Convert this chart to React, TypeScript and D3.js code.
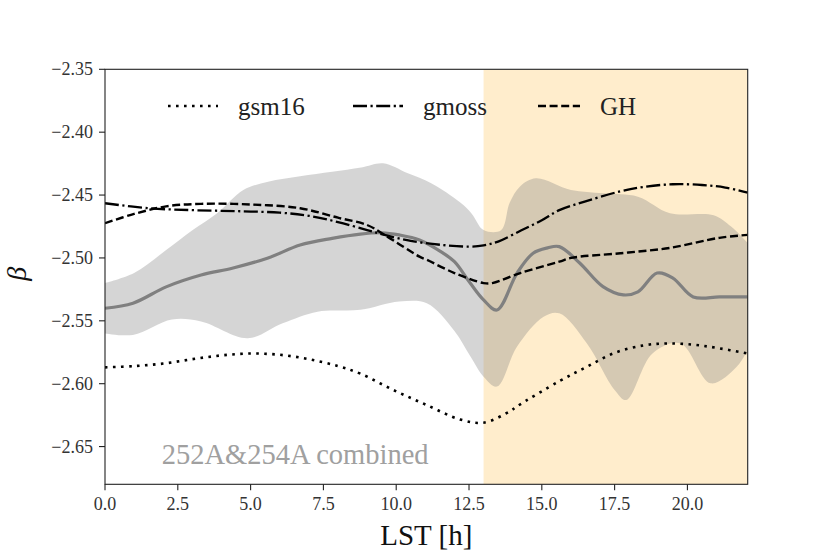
import * as d3 from 'd3';

const width = 830;
const height = 554;
const margin = { top: 69.3, right: 82.3, bottom: 69.7, left: 105 };

// LST hours and beta values
const gsm16X = [0, 1, 2, 3, 4, 5, 6, 7, 8, 8.77, 9.9, 11.05, 12.2, 13.0, 13.9, 14.15, 15.6, 16.55, 17.5, 18.5, 19.3, 20.2, 21.0, 22.07];
const gsm16Y = [-2.587, -2.586, -2.584, -2.5805, -2.5775, -2.576, -2.577, -2.5805, -2.586, -2.592, -2.605, -2.617, -2.6285, -2.631, -2.622, -2.618, -2.598, -2.5865, -2.5755, -2.5695, -2.568, -2.569, -2.5715, -2.576];

const gmossX = [0, 1.5, 3, 4.5, 6, 7, 8, 9, 9.6, 10.5, 11.5, 12.5, 13.0, 13.5, 14.3, 15, 15.6, 16.5, 17.7, 18.5, 19.5, 20.5, 21.3, 22.07];
const gmossY = [-2.4565, -2.4605, -2.462, -2.4628, -2.464, -2.4665, -2.4715, -2.4778, -2.4817, -2.4865, -2.4895, -2.491, -2.49, -2.487, -2.478, -2.47, -2.462, -2.455, -2.447, -2.4435, -2.4414, -2.442, -2.444, -2.448];

const ghX = [0, 1, 2.1, 3.3, 5, 6.7, 8, 9, 9.6, 10.8, 11.05, 12, 13.0, 13.3, 14.26, 15.6, 16.0, 17.7, 19.4, 21.1, 22.07];
const ghY = [-2.4724, -2.465, -2.459, -2.457, -2.4575, -2.4605, -2.468, -2.4738, -2.4817, -2.499, -2.5015, -2.512, -2.52, -2.52, -2.512, -2.503, -2.5, -2.4963, -2.492, -2.484, -2.4817];

const meanX = [0, 0.96, 2.1, 3.3, 4.4, 5.6, 6.7, 7.8, 8.77, 9.5, 10.1, 10.8, 11.6, 12.0, 12.54, 13.0, 13.46, 14.15, 14.7, 15.2, 15.6, 16.3, 17.1, 17.8, 18.3, 18.96, 19.5, 20.2, 21.1, 22.07];
const meanY = [-2.54, -2.536, -2.523, -2.5136, -2.508, -2.5, -2.4897, -2.4844, -2.481, -2.48, -2.4817, -2.4857, -2.496, -2.503, -2.52, -2.5334, -2.5414, -2.512, -2.4963, -2.492, -2.491, -2.504, -2.5228, -2.5294, -2.527, -2.512, -2.516, -2.531, -2.531, -2.531];

const upperX = [0, 1, 2.1, 3.0, 3.85, 4.75, 5.6, 6.7, 7.8, 8.8, 9.55, 10.4, 11.2, 12.2, 12.6, 13.0, 13.6, 13.9, 14.26, 14.8, 16.0, 17.1, 18.3, 19.4, 20.9, 21.5, 22.07];
const upperY = [-2.52, -2.512, -2.4937, -2.478, -2.4645, -2.446, -2.4394, -2.435, -2.4314, -2.428, -2.4247, -2.4327, -2.4406, -2.456, -2.465, -2.4778, -2.478, -2.456, -2.443, -2.4367, -2.446, -2.4486, -2.4513, -2.4645, -2.466, -2.475, -2.488];

const lowerX = [0, 0.96, 2.3, 3.3, 4.9, 6.1, 7.3, 8.77, 10.1, 11.05, 12.0, 12.54, 13.0, 13.46, 14.15, 15.06, 15.6, 16.55, 17.5, 17.9, 18.8, 19.76, 20.8, 21.7, 22.07];
const lowerY = [-2.56, -2.5612, -2.549, -2.5506, -2.5639, -2.552, -2.5427, -2.5413, -2.5347, -2.536, -2.558, -2.578, -2.5944, -2.6023, -2.5705, -2.5467, -2.544, -2.568, -2.605, -2.613, -2.576, -2.568, -2.5997, -2.5864, -2.573];

const xTicks = [0, 2.5, 5, 7.5, 10, 12.5, 15, 17.5, 20];
const yTicks = [-2.35, -2.4, -2.45, -2.5, -2.55, -2.6, -2.65];
const dayStart = 13;
const xMax = 22.07;

const legendItems = [
	{ label: 'gsm16', dash: '2.6 5.4', width: 2.6, x: 168 },
	{ label: 'gmoss', dash: '14 3.5 2.2 3.5', width: 2.3, x: 353 },
	{ label: 'GH', dash: '8 3.6', width: 2.4, x: 538 },
];

const font = '"Liberation Serif", "Times New Roman", serif';

const zip = (xs: number[], ys: number[]) => xs.map((x, i) => [x, ys[i]] as [number, number]);

const App = () => {
	const innerWidth = width - margin.left - margin.right;
	const innerHeight = height - margin.top - margin.bottom;

	const xScale = d3.scaleLinear().domain([0, xMax]).range([0, innerWidth]);
	const yScale = d3.scaleLinear().domain([-2.68, -2.35]).range([innerHeight, 0]);

	const lineGen = d3
		.line<[number, number]>()
		.curve(d3.curveCatmullRom.alpha(0.5))
		.x(d => xScale(d[0]))
		.y(d => yScale(d[1]));

	const bandPath =
		lineGen(zip(upperX, upperY)) +
		'L' +
		(lineGen(zip(lowerX, lowerY).reverse()) || '').slice(1) +
		'Z';

	const models = [
		{ xs: gsm16X, ys: gsm16Y, ...legendItems[0] },
		{ xs: gmossX, ys: gmossY, ...legendItems[1] },
		{ xs: ghX, ys: ghY, ...legendItems[2] },
	];

	const legendLen = [50, 50, 42];

	return (
		<svg
			width={width}
			height={height}
			style={{ position: 'absolute', left: 0, top: 0, display: 'block', background: 'white' }}
		>
			<defs>
				<clipPath id="plot-clip">
					<rect width={innerWidth} height={innerHeight} />
				</clipPath>
			</defs>
			<g transform={`translate(${margin.left},${margin.top})`}>
				<g clipPath="url(#plot-clip)">
					<rect
						x={xScale(dayStart)}
						width={xScale(xMax) - xScale(dayStart)}
						height={innerHeight}
						fill="#ffedcc"
					/>
					<path d={bandPath} fill="#808080" fillOpacity={0.33} />
					<path
						d={lineGen(zip(meanX, meanY)) || ''}
						fill="none"
						stroke="#808080"
						strokeWidth={3.2}
						strokeLinejoin="round"
					/>
					{models.map(m => (
						<path
							key={m.label}
							d={lineGen(zip(m.xs, m.ys)) || ''}
							fill="none"
							stroke="black"
							strokeWidth={m.width}
							strokeDasharray={m.dash}
						/>
					))}
				</g>
				<text
					x={xScale(1.95)}
					y={yScale(-2.6635)}
					fill="#a0a0a0"
					fontFamily={font}
					fontSize={28.5}
				>
					252A&amp;254A combined
				</text>
				{/* legend */}
				{legendItems.map((d, i) => (
					<g key={d.label}>
						<line
							x1={d.x - margin.left}
							x2={d.x - margin.left + legendLen[i]}
							y1={106 - margin.top}
							y2={106 - margin.top}
							stroke="black"
							strokeWidth={d.width}
							strokeDasharray={d.dash}
						/>
						<text
							x={d.x - margin.left + legendLen[i] + 20}
							y={115 - margin.top}
							fill="#222"
							fontFamily={font}
							fontSize={25}
						>
							{d.label}
						</text>
					</g>
				))}
				{/* axes */}
				<rect width={innerWidth} height={innerHeight} fill="none" stroke="#222" strokeWidth={1.1} />
				{xTicks.map(t => (
					<g key={t} transform={`translate(${xScale(t)},${innerHeight})`}>
						<line y2={6} stroke="#222" strokeWidth={1.1} />
						<text
							y={26}
							textAnchor="middle"
							fill="#333"
							fontFamily={font}
							fontSize={18}
						>
							{t.toFixed(1)}
						</text>
					</g>
				))}
				{yTicks.map(t => (
					<g key={t} transform={`translate(0,${yScale(t)})`}>
						<line x2={-6} stroke="#222" strokeWidth={1.1} />
						<text
							x={-12}
							dy="0.34em"
							textAnchor="end"
							fill="#333"
							fontFamily={font}
							fontSize={18}
						>
							{'\u2212' + Math.abs(t).toFixed(2)}
						</text>
					</g>
				))}
				<text
					x={innerWidth / 2}
					y={innerHeight + 61}
					textAnchor="middle"
					fill="#111"
					fontFamily={font}
					fontSize={29}
				>
					LST [h]
				</text>
				<text
					transform={`translate(${-79},${innerHeight / 2 - 3}) rotate(-90)`}
					textAnchor="middle"
					fill="#111"
					fontFamily={font}
					fontStyle="italic"
					fontSize={28}
				>
					β
				</text>
			</g>
		</svg>
	);
};

export default App;
